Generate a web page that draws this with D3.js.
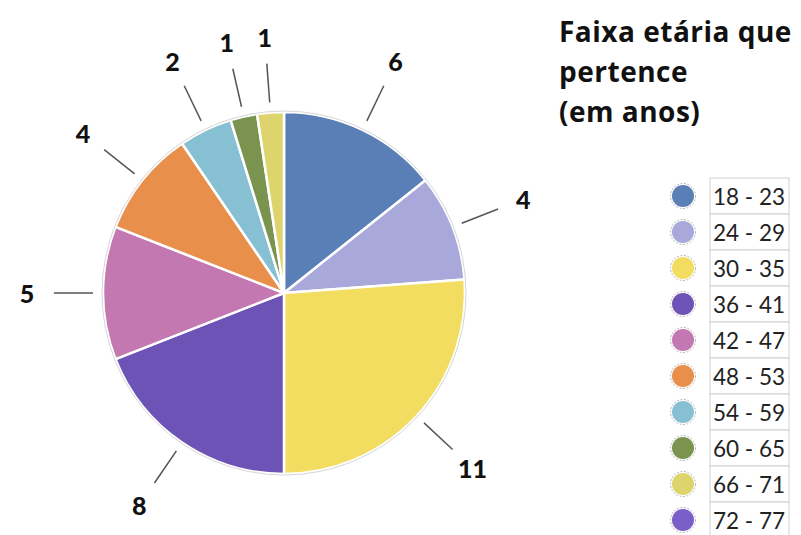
<!DOCTYPE html>
<html>
<head>
<meta charset="utf-8">
<script src="https://cdn.jsdelivr.net/npm/d3@7"></script>
<style>
  body { margin: 0; background: #fff; }
  svg { display: block; font-family: Lato, "Open Sans", sans-serif; }
</style>
</head>
<body>
<div id="chart"></div>
<script>
const titleLines = ["Faixa etária que", "pertence", "(em anos)"];
const ageGroups = ["18 - 23", "24 - 29", "30 - 35", "36 - 41", "42 - 47", "48 - 53", "54 - 59", "60 - 65", "66 - 71", "72 - 77"];
const counts = [6, 4, 11, 8, 5, 4, 2, 1, 1, 0];
const colors = ["#5a7fb6", "#a9a8da", "#f2dd60", "#6d53b5", "#c478b1", "#e98f4c", "#87c0d3", "#7a9450", "#ddd46d", "#7b5fc8"];

const w = 801;
const h = 535;
const cx = 284, cy = 293, radius = 181;

const svg = d3.select("#chart")
  .append("svg")
  .attr("width", w)
  .attr("height", h);

const color = d3.scaleOrdinal().domain(ageGroups).range(colors);

const pie = d3.pie()
  .sort(null)
  .value((d) => d.value);

const data = ageGroups.map((g, i) => ({ group: g, value: counts[i] }));
const arcs = pie(data);

const arc = d3.arc().innerRadius(0).outerRadius(radius);

const g = svg.append("g").attr("transform", `translate(${cx},${cy})`);

g.selectAll("path")
  .data(arcs.filter((d) => d.value > 0))
  .enter()
  .append("path")
  .attr("d", arc)
  .attr("fill", (d) => color(d.data.group))
  .attr("stroke", "#fff")
  .attr("stroke-width", 2.5)
  .attr("stroke-linejoin", "round");

// thin grey rim round the pie
g.append("circle")
  .attr("r", radius + 1)
  .attr("fill", "none")
  .attr("stroke", "#d6d6d6")
  .attr("stroke-width", 1);

// leader lines + value labels
const lineIn = d3.arc().innerRadius(radius + 10).outerRadius(radius + 10);
const lineOut = d3.arc().innerRadius(radius + 49).outerRadius(radius + 49);
const labelArc = d3.arc().innerRadius(radius + 76).outerRadius(radius + 76);

const labeled = arcs.filter((d) => d.value > 0);

g.selectAll("line.leader")
  .data(labeled)
  .enter()
  .append("line")
  .attr("class", "leader")
  .attr("x1", (d) => lineIn.centroid(d)[0])
  .attr("y1", (d) => lineIn.centroid(d)[1])
  .attr("x2", (d) => lineOut.centroid(d)[0])
  .attr("y2", (d) => lineOut.centroid(d)[1])
  .attr("stroke", "#555")
  .attr("stroke-width", 1.5);

g.selectAll("text.val")
  .data(labeled)
  .enter()
  .append("text")
  .attr("class", "val")
  .attr("x", (d) => labelArc.centroid(d)[0])
  .attr("y", (d) => labelArc.centroid(d)[1])
  .attr("text-anchor", "middle")
  .attr("dominant-baseline", "central")
  .attr("font-size", 25)
  .attr("font-weight", 900)
  .attr("fill", "#111")
  .text((d) => d.value);

// title
svg.append("g")
  .selectAll("text")
  .data(titleLines)
  .enter()
  .append("text")
  .attr("x", 559)
  .attr("y", (d, i) => 42 + i * 40)
  .attr("font-family", "'Open Sans', sans-serif")
  .attr("font-size", 28)
  .attr("font-weight", "bold")
  .attr("letter-spacing", 0.5)
  .attr("fill", "#111")
  .text((d) => d);

// legend
const rowH = 36;
const legend = svg.append("g").attr("transform", "translate(0,196)");

const rows = legend.selectAll("g")
  .data(ageGroups)
  .enter()
  .append("g")
  .attr("transform", (d, i) => `translate(0,${i * rowH})`);

rows.append("circle")
  .attr("cx", 683)
  .attr("r", 12.5)
  .attr("fill", "none")
  .attr("stroke", "#b5b5b5")
  .attr("stroke-width", 1)
  .attr("stroke-dasharray", "2,1.5");

rows.append("circle")
  .attr("cx", 683)
  .attr("r", 11)
  .attr("fill", (d) => color(d));

rows.append("rect")
  .attr("x", 710)
  .attr("y", -rowH / 2)
  .attr("width", 79)
  .attr("height", rowH)
  .attr("fill", "#fff")
  .attr("stroke", "#cfcfcf")
  .attr("stroke-width", 1);

rows.append("text")
  .attr("x", 713)
  .attr("y", 0)
  .attr("dominant-baseline", "central")
  .attr("font-size", 22.5)
  .attr("fill", "#222")
  .text((d) => d);
</script>
</body>
</html>
